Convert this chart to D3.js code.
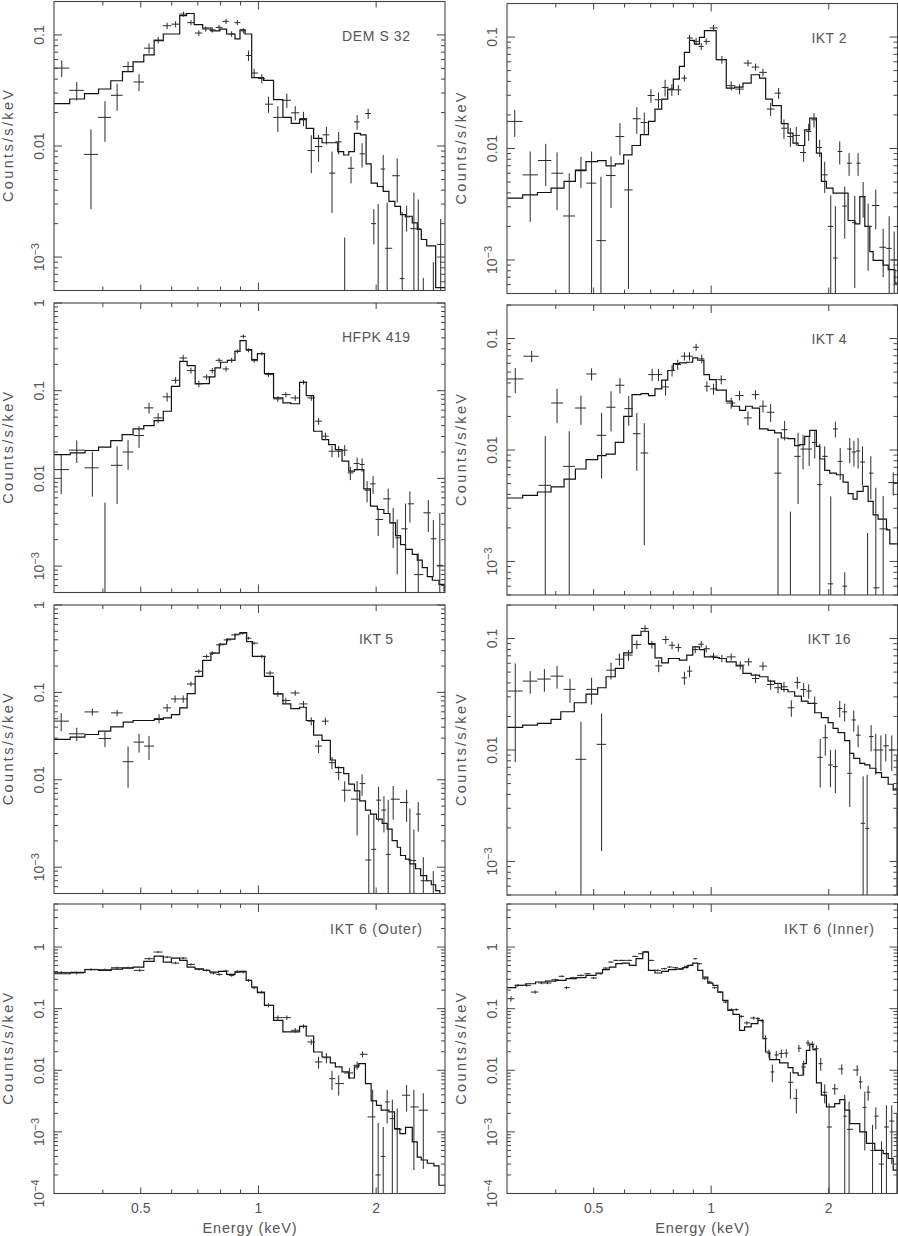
<!DOCTYPE html>
<html><head><meta charset="utf-8">
<script src="https://cdnjs.cloudflare.com/ajax/libs/d3/7.8.5/d3.min.js"></script>
<style>
html,body{margin:0;padding:0;background:#fff;}
svg{display:block;}
text{font-family:"Liberation Sans",Arial,Helvetica,sans-serif;fill:#555;}
</style>
</head><body>
<svg id="c" width="898" height="1236"></svg>
<script>
// ---------------- DATA (keV, counts/s/keV) ----------------
// DEM S 32
const dems32_modelE = [0.30,0.329,0.359,0.390,0.419,0.449,0.478,0.509,0.541,0.571,0.629,0.655,0.685,0.720,0.756,0.797,0.829,0.871,0.897,0.924,0.961,1.030,1.093,1.155,1.213,1.274,1.325,1.384,1.454,1.595,1.652,1.702,1.760,1.823,1.885,1.942,2.014,2.085,2.156,2.233,2.309,2.378,2.474,2.548,2.609,2.693,2.840];
const dems32_modelV = [0.0241,0.0265,0.0296,0.0326,0.0387,0.0467,0.0573,0.0662,0.089,0.102,0.149,0.156,0.124,0.1155,0.109,0.113,0.102,0.092,0.111,0.102,0.0412,0.039,0.0262,0.0181,0.0160,0.0173,0.0144,0.0117,0.0107,0.0089,0.0083,0.0089,0.0130,0.0126,0.0069,0.00463,0.00432,0.0039,0.00317,0.00286,0.00241,0.00233,0.00203,0.00177,0.00144,0.00126,0.00053];
const dems32_E = [0.314,0.343,0.373,0.405,0.435,0.464,0.495,0.525,0.554,0.584,0.614,0.643,0.672,0.704,0.733,0.762,0.793,0.826,0.854,0.883,0.915,0.943,0.975,1.020,1.061,1.121,1.182,1.242,1.304,1.365,1.425,1.492,1.542,1.604,1.662,1.725,1.788,1.841,1.908,1.973,2.024,2.085,2.134,2.264,2.332,2.393,2.498,2.563,2.640,2.801,2.925];
const dems32_V = [0.0503,0.0317,0.0084,0.0181,0.0286,0.052,0.0377,0.076,0.090,0.121,0.125,0.154,0.129,0.104,0.113,0.111,0.117,0.1325,0.102,0.129,0.109,0.0653,0.0454,0.0404,0.0238,0.0181,0.0258,0.0199,0.0177,0.0091,0.0099,0.0126,0.0057,0.0109,0.0002,0.0063,0.0165,0.0085,0.0196,0.0020,0.0003,0.0062,0.0012,0.0054,0.00064,0.0023,0.0018,0.0018,0.0002,0.0002,0.0013];
const dems32_err = [0.0086,0.006,0.0057,0.0072,0.0078,0.0057,0.0065,0.008,0.0064,0.008,0.008,0.008,0.007,0.006,0.006,0.006,0.006,0.007,0.006,0.007,0.006,0.007,0.0042,0.0038,0.0039,0.0047,0.0038,0.0029,0.0026,0.0034,0.0027,0.0023,0.0032,0.0025,0.0013,0.0017,0.0025,0.0021,0.0021,0.0007,0.0027,0.0021,0.0019,0.0023,0.0019,0.0006,0.002,0.0015,0.00045,0.0007,0.0009];

// IKT 2
const ikt2_modelE = [0.30,0.329,0.359,0.389,0.420,0.449,0.478,0.512,0.538,0.568,0.597,0.627,0.659,0.691,0.718,0.747,0.774,0.800,0.829,0.854,0.880,0.906,0.933,0.961,1.030,1.093,1.148,1.206,1.266,1.330,1.379,1.434,1.512,1.573,1.620,1.669,1.736,1.788,1.860,1.915,1.973,2.052,2.242,2.332,2.402,2.474,2.548,2.599,2.757,2.840,2.954];
const ikt2_modelV = [0.00358,0.00384,0.00403,0.00441,0.00506,0.00634,0.00764,0.0078,0.00698,0.00728,0.00877,0.01064,0.0133,0.0175,0.0226,0.0277,0.0341,0.042,0.0545,0.0728,0.0933,0.0865,0.0993,0.114,0.0626,0.0348,0.0356,0.0386,0.0459,0.0428,0.0277,0.0242,0.0167,0.01374,0.01117,0.01064,0.01472,0.0187,0.00908,0.00506,0.00441,0.00397,0.00226,0.00211,0.0037,0.002,0.00119,0.00099,0.0009,0.00082,0.00062];
const ikt2_E = [0.314,0.344,0.377,0.403,0.433,0.464,0.494,0.522,0.554,0.584,0.614,0.645,0.674,0.701,0.733,0.762,0.793,0.824,0.854,0.880,0.915,0.943,0.971,1.014,1.065,1.125,1.182,1.242,1.299,1.357,1.420,1.488,1.536,1.595,1.652,1.725,1.777,1.834,1.896,1.953,2.024,2.080,2.134,2.198,2.255,2.332,2.378,2.450,2.523,2.639,2.757,2.856,2.942];
const ikt2_V = [0.0175,0.0058,0.0078,0.0060,0.00248,0.00643,0.00489,0.00149,0.00572,0.0128,0.00425,0.0185,0.0171,0.0299,0.0274,0.0353,0.0336,0.0336,0.0428,0.098,0.0914,0.0824,0.0914,0.1205,0.0626,0.0366,0.0341,0.0584,0.0538,0.0482,0.0226,0.0314,0.0152,0.0128,0.0131,0.0092,0.0142,0.0181,0.0102,0.0058,0.002,0.00104,0.0094,0.00305,0.00738,0.00216,0.00738,0.0037,0.002,0.00308,0.0013,0.00127,0.001];
const ikt2_err = [0.0048,0.0036,0.0032,0.0032,0.0035,0.002,0.0045,0.0041,0.0028,0.0041,0.0037,0.005,0.0039,0.0042,0.0044,0.006,0.004,0.0035,0.003,0.007,0.007,0.006,0.006,0.008,0.005,0.0035,0.0035,0.004,0.004,0.0038,0.003,0.0035,0.003,0.0025,0.0025,0.0016,0.0025,0.0027,0.0018,0.0018,0.0018,0.002,0.0022,0.0015,0.0017,0.0016,0.0017,0.0013,0.0012,0.0012,0.0006,0.0012,0.0008];

// HFPK 419
const hfpk419_modelE = [0.30,0.330,0.360,0.390,0.419,0.448,0.478,0.509,0.541,0.571,0.599,0.629,0.657,0.689,0.749,0.774,0.800,0.833,0.871,0.897,0.930,0.961,0.994,1.036,1.093,1.155,1.21,1.274,1.325,1.384,1.454,1.512,1.573,1.636,1.702,1.760,1.860,1.934,2.014,2.093,2.168,2.242,2.309,2.378,2.474,2.548,2.624,2.703,2.784,2.896,2.984];
const hfpk419_modelV = [0.0187,0.0195,0.0208,0.0227,0.027,0.0316,0.0367,0.040,0.0456,0.0583,0.1123,0.2164,0.193,0.1205,0.1435,0.1817,0.211,0.222,0.281,0.372,0.294,0.226,0.265,0.1566,0.0827,0.0726,0.071,0.1247,0.088,0.0345,0.0277,0.0243,0.0213,0.0157,0.0121,0.0126,0.0076,0.00482,0.00442,0.00398,0.00311,0.00223,0.00176,0.00155,0.00136,0.00117,0.00096,0.00076,0.00069,0.00062,0.00052];
const hfpk419_E = [0.313,0.343,0.376,0.405,0.435,0.464,0.495,0.525,0.554,0.584,0.614,0.642,0.672,0.704,0.737,0.762,0.793,0.826,0.854,0.883,0.915,0.943,0.975,1.020,1.061,1.121,1.175,1.242,1.304,1.365,1.425,1.483,1.542,1.604,1.662,1.718,1.788,1.841,1.896,1.964,2.024,2.147,2.211,2.264,2.378,2.44,2.563,2.719,2.801,2.91];
const hfpk419_V = [0.0126,0.0210,0.0132,0.0003,0.0141,0.020,0.0308,0.0637,0.049,0.085,0.1315,0.236,0.1695,0.1195,0.1435,0.1695,0.222,0.177,0.222,0.281,0.417,0.289,0.220,0.265,0.1526,0.0806,0.0903,0.0827,0.1247,0.0827,0.0449,0.0303,0.0204,0.0204,0.021,0.01156,0.0148,0.0144,0.00734,0.00867,0.0034,0.00585,0.00311,0.0021,0.00266,0.00513,0.0008,0.00405,0.00205,0.00102];
const hfpk419_err = [0.006,0.006,0.007,0.005,0.009,0.0075,0.0085,0.009,0.0065,0.01,0.011,0.02,0.013,0.01,0.01,0.012,0.014,0.012,0.014,0.015,0.02,0.015,0.012,0.013,0.009,0.006,0.006,0.006,0.007,0.006,0.004,0.003,0.003,0.003,0.003,0.002,0.0025,0.0025,0.002,0.002,0.0012,0.0018,0.0015,0.0013,0.0025,0.002,0.0006,0.0016,0.0013,0.003];

// IKT 4
const ikt4_modelE = [0.30,0.329,0.359,0.389,0.420,0.449,0.478,0.512,0.538,0.568,0.597,0.627,0.661,0.691,0.718,0.747,0.774,0.800,0.829,0.863,0.897,0.924,0.958,0.990,1.030,1.093,1.132,1.182,1.225,1.274,1.330,1.398,1.454,1.512,1.573,1.636,1.686,1.736,1.788,1.860,1.897,1.953,2.012,2.093,2.177,2.242,2.309,2.364,2.450,2.523,2.599,2.676,2.811,2.867];
const ikt4_modelV = [0.00371,0.00392,0.0042,0.00466,0.00549,0.00675,0.00819,0.0089,0.0092,0.01172,0.02006,0.0314,0.0321,0.0308,0.0353,0.0423,0.0517,0.0596,0.0605,0.0613,0.067,0.0639,0.0475,0.0428,0.0344,0.0274,0.0247,0.0227,0.0247,0.0238,0.01545,0.01503,0.01422,0.01282,0.01265,0.01094,0.01117,0.01327,0.01503,0.0108,0.0083,0.00657,0.00621,0.0060,0.00516,0.00406,0.00363,0.00425,0.00472,0.00346,0.00262,0.0024,0.00192,0.00144];
const ikt4_E = [0.315,0.347,0.376,0.403,0.433,0.464,0.494,0.524,0.554,0.584,0.615,0.645,0.674,0.706,0.733,0.764,0.794,0.821,0.854,0.880,0.915,0.946,0.975,1.014,1.061,1.125,1.182,1.242,1.299,1.357,1.420,1.483,1.542,1.595,1.669,1.719,1.782,1.842,1.897,1.953,2.024,2.080,2.14,2.198,2.264,2.32,2.378,2.44,2.515,2.563,2.64,2.757,2.925];
const ikt4_V = [0.0434,0.0694,0.00482,0.0264,0.00713,0.0238,0.0481,0.01355,0.0242,0.0381,0.0235,0.0140,0.0094,0.0475,0.0475,0.0368,0.0517,0.0585,0.0694,0.0694,0.0836,0.0657,0.0373,0.0353,0.0428,0.0264,0.0308,0.0194,0.0314,0.0247,0.0218,0.0062,0.0152,0.0003,0.00877,0.0102,0.0102,0.0117,0.00489,0.00877,0.00063,0.01545,0.0079,0.0006,0.0102,0.0096,0.0098,0.0078,0.0003,0.0062,0.00058,0.00196,0.0051];
const ikt4_err = [0.011,0.008,0.0085,0.009,0.0076,0.007,0.006,0.008,0.0095,0.006,0.007,0.0075,0.008,0.006,0.006,0.006,0.006,0.006,0.006,0.006,0.006,0.006,0.004,0.004,0.004,0.003,0.003,0.0028,0.003,0.003,0.004,0.0066,0.003,0.0025,0.0055,0.0035,0.003,0.0033,0.0065,0.002,0.0032,0.0025,0.0025,0.0002,0.0026,0.0025,0.003,0.003,0.0015,0.0026,0.004,0.0019,0.0012];

// IKT 5
const ikt5_modelE = [0.30,0.330,0.360,0.390,0.419,0.451,0.478,0.509,0.541,0.571,0.599,0.629,0.657,0.689,0.720,0.756,0.794,0.829,0.871,0.897,0.933,0.965,1.036,1.093,1.155,1.210,1.274,1.325,1.384,1.454,1.527,1.573,1.652,1.702,1.760,1.816,1.878,1.935,2.004,2.072,2.134,2.197,2.264,2.309,2.378,2.44,2.523,2.599,2.693,2.767,2.840,2.91];
const ikt5_modelV = [0.029,0.0308,0.033,0.036,0.0404,0.0456,0.0477,0.0477,0.049,0.0512,0.0558,0.0665,0.0968,0.1526,0.232,0.281,0.356,0.406,0.463,0.484,0.382,0.258,0.1526,0.096,0.0738,0.0653,0.0676,0.0477,0.0324,0.0282,0.01684,0.01377,0.01177,0.0089,0.00746,0.00574,0.0045,0.00405,0.00355,0.00317,0.00273,0.00201,0.00169,0.00136,0.00124,0.00109,0.00096,0.0008,0.0007,0.00063,0.00054,0.0005];
const ikt5_E = [0.313,0.343,0.376,0.405,0.435,0.464,0.495,0.525,0.557,0.584,0.612,0.642,0.672,0.704,0.737,0.762,0.797,0.834,0.871,0.911,0.943,0.975,1.020,1.071,1.121,1.175,1.242,1.304,1.365,1.425,1.483,1.542,1.604,1.662,1.788,1.841,1.915,1.973,2.029,2.094,2.147,2.211,2.393,2.44,2.498,2.563,2.64,2.80];
const ikt5_V = [0.0469,0.0336,0.0598,0.0297,0.0583,0.0161,0.027,0.0243,0.0502,0.0665,0.0842,0.0842,0.1247,0.174,0.258,0.281,0.35,0.399,0.455,0.475,0.417,0.366,0.258,0.1665,0.096,0.0806,0.0985,0.0738,0.0469,0.0243,0.0469,0.0157,0.0121,0.0076,0.006,0.00905,0.00121,0.0016,0.00585,0.0045,0.0014,0.006,0.0055,0.0012,0.00119,0.00405,0.0007,0.0005];
const ikt5_err = [0.011,0.0058,0.0055,0.006,0.005,0.008,0.0065,0.0075,0.006,0.007,0.008,0.008,0.008,0.01,0.013,0.013,0.015,0.015,0.016,0.017,0.015,0.014,0.012,0.01,0.007,0.006,0.007,0.006,0.005,0.004,0.0045,0.0025,0.0022,0.002,0.0037,0.0025,0.0028,0.0025,0.0025,0.002,0.0045,0.0025,0.0022,0.0035,0.0015,0.0015,0.0006,0.0004];

// IKT 16
const ikt16_modelE = [0.30,0.329,0.359,0.389,0.412,0.446,0.478,0.512,0.538,0.568,0.597,0.627,0.661,0.691,0.718,0.747,0.777,0.829,0.866,0.897,0.933,0.961,1.010,1.050,1.093,1.159,1.206,1.266,1.330,1.398,1.454,1.512,1.573,1.636,1.702,1.770,1.841,1.915,1.993,2.052,2.113,2.197,2.264,2.318,2.402,2.474,2.548,2.639,2.730,2.840,2.925];
const ikt16_modelV = [0.01596,0.01675,0.01733,0.01883,0.02204,0.02655,0.0317,0.0362,0.0454,0.0539,0.0744,0.107,0.1163,0.0902,0.0671,0.0605,0.0662,0.064,0.071,0.0842,0.0797,0.0685,0.0676,0.0662,0.0618,0.0569,0.0486,0.047,0.0454,0.0415,0.0395,0.0349,0.0333,0.0305,0.0275,0.0262,0.0216,0.0195,0.0176,0.01563,0.01429,0.01212,0.00933,0.00842,0.0076,0.00734,0.00686,0.00627,0.00569,0.00493,0.00439];
const ikt16_E = [0.315,0.344,0.374,0.403,0.435,0.464,0.494,0.524,0.554,0.582,0.614,0.645,0.677,0.705,0.734,0.765,0.794,0.824,0.854,0.880,0.910,0.943,0.971,1.014,1.065,1.125,1.187,1.247,1.299,1.357,1.420,1.483,1.536,1.604,1.662,1.725,1.777,1.841,1.902,1.960,2.02,2.08,2.134,2.197,2.264,2.318,2.378,2.45,2.508,2.568,2.639,2.72,2.8,2.90,2.99];
const ikt16_V = [0.0338,0.0415,0.0433,0.046,0.035,0.00825,0.035,0.01124,0.052,0.0653,0.0711,0.0884,0.123,0.0884,0.0569,0.098,0.0871,0.083,0.0444,0.051,0.0797,0.089,0.081,0.0694,0.0662,0.0685,0.0577,0.0618,0.0438,0.0566,0.0387,0.0362,0.0369,0.0239,0.0404,0.0349,0.0338,0.0262,0.0086,0.0129,0.00734,0.0071,0.0236,0.022,0.00618,0.0186,0.0136,0.0022,0.00198,0.0132,0.01,0.01,0.0109,0.01,0.0045];
const ikt16_err = [0.026,0.0095,0.01,0.0105,0.0085,0.0097,0.0095,0.01,0.009,0.008,0.008,0.008,0.009,0.007,0.007,0.008,0.007,0.007,0.006,0.006,0.006,0.006,0.006,0.005,0.005,0.005,0.005,0.005,0.004,0.005,0.004,0.004,0.004,0.004,0.005,0.005,0.005,0.004,0.004,0.004,0.0027,0.003,0.004,0.004,0.0031,0.004,0.003,0.0036,0.004,0.0035,0.004,0.0035,0.003,0.0035,0.0045];

// IKT 6 (Outer)
const ikt6o_modelE = [0.30,0.330,0.360,0.390,0.420,0.449,0.478,0.509,0.541,0.571,0.599,0.629,0.657,0.688,0.723,0.751,0.790,0.829,0.871,0.897,0.930,0.961,0.994,1.036,1.093,1.155,1.210,1.274,1.325,1.384,1.454,1.527,1.573,1.636,1.702,1.760,1.805,1.878,1.942,2.004,2.06,2.156,2.229,2.300,2.378,2.474,2.548,2.609,2.703,2.81,2.895];
const ikt6o_modelV = [0.369,0.388,0.429,0.419,0.44,0.456,0.474,0.586,0.715,0.571,0.663,0.608,0.474,0.445,0.419,0.393,0.403,0.36,0.393,0.403,0.288,0.2246,0.1818,0.1133,0.0647,0.0419,0.0419,0.0517,0.036,0.0198,0.01644,0.01315,0.01133,0.0094,0.0075,0.01133,0.01283,0.00608,0.00318,0.0027,0.00225,0.00211,0.00113,0.00094,0.00118,0.00069,0.00039,0.00035,0.00031,0.00028,0.000136];
const ikt6o_E = [0.313,0.343,0.373,0.405,0.435,0.464,0.497,0.525,0.554,0.584,0.614,0.642,0.672,0.704,0.737,0.767,0.793,0.826,0.854,0.883,0.915,0.943,0.975,1.020,1.061,1.121,1.182,1.242,1.304,1.365,1.425,1.492,1.542,1.604,1.709,1.788,1.845,1.96,2.024,2.085,2.134,2.2,2.264,2.393,2.498,2.64];
const ikt6o_V = [0.388,0.379,0.434,0.429,0.462,0.462,0.419,0.647,0.83,0.688,0.55,0.663,0.523,0.434,0.419,0.379,0.36,0.408,0.347,0.403,0.393,0.288,0.219,0.186,0.1133,0.0715,0.0715,0.0446,0.0517,0.0288,0.01365,0.016,0.0073,0.00608,0.00905,0.01206,0.01817,0.00175,0.0002,0.0004,0.00307,0.00164,0.0011,0.00394,0.00254,0.00225];
const ikt6o_err = [0.02,0.02,0.02,0.02,0.02,0.02,0.02,0.03,0.03,0.03,0.025,0.03,0.025,0.02,0.02,0.02,0.018,0.02,0.018,0.02,0.02,0.015,0.012,0.01,0.008,0.006,0.006,0.004,0.004,0.003,0.003,0.003,0.0025,0.0022,0.0018,0.0018,0.002,0.0031,0.0012,0.0008,0.0017,0.0017,0.0013,0.0018,0.0023,0.002];

// IKT 6 (Inner)
const ikt6i_modelE = [0.30,0.316,0.335,0.355,0.377,0.40,0.425,0.451,0.478,0.507,0.527,0.548,0.570,0.593,0.617,0.642,0.668,0.691,0.718,0.747,0.777,0.813,0.846,0.871,0.897,0.924,0.952,0.980,1.010,1.040,1.071,1.103,1.137,1.182,1.218,1.266,1.317,1.357,1.378,1.412,1.497,1.573,1.620,1.669,1.719,1.753,1.788,1.823,1.860,1.915,1.973,2.072,2.134,2.198,2.264,2.402,2.498,2.624,2.757,2.840,2.925];
const ikt6i_modelV = [0.219,0.239,0.254,0.271,0.281,0.288,0.3065,0.318,0.347,0.379,0.429,0.474,0.537,0.55,0.505,0.647,0.83,0.419,0.379,0.403,0.429,0.44,0.462,0.505,0.55,0.419,0.326,0.2607,0.239,0.186,0.1365,0.094,0.081,0.0446,0.0505,0.0571,0.0647,0.0327,0.0198,0.0149,0.01315,0.01105,0.00905,0.0083,0.01283,0.0211,0.0264,0.0216,0.00623,0.00394,0.00254,0.00288,0.00334,0.00225,0.00136,0.001,0.00065,0.0005,0.000445,0.00037,0.00024];
const ikt6i_E = [0.307,0.320,0.337,0.354,0.368,0.381,0.399,0.415,0.426,0.443,0.464,0.483,0.500,0.520,0.536,0.554,0.570,0.590,0.617,0.638,0.661,0.681,0.701,0.729,0.759,0.782,0.810,0.838,0.866,0.889,0.910,0.933,0.961,0.990,1.020,1.055,1.088,1.126,1.159,1.194,1.234,1.284,1.317,1.352,1.378,1.406,1.434,1.468,1.512,1.557,1.595,1.652,1.678,1.726,1.770,1.815,1.860,1.908,1.953,2.004,2.072,2.160,2.198,2.255,2.365,2.410,2.474,2.523,2.590,2.640,2.730,2.810,2.900,2.990];
const ikt6i_V = [0.145,0.239,0.239,0.186,0.261,0.261,0.295,0.335,0.219,0.318,0.347,0.369,0.315,0.369,0.456,0.571,0.608,0.608,0.608,0.705,0.78,0.85,0.608,0.419,0.445,0.474,0.462,0.445,0.486,0.505,0.647,0.537,0.3065,0.271,0.219,0.186,0.1282,0.0964,0.0964,0.075,0.0587,0.0706,0.069,0.0634,0.0327,0.0187,0.0094,0.0177,0.0187,0.019,0.0064,0.0035,0.0228,0.0113,0.0277,0.0264,0.0224,0.0128,0.0044,0.0012,0.005,0.0105,0.0018,0.0011,0.0101,0.0065,0.0025,0.0044,0.0005,0.0018,0.0003,0.0012,0.0015,0.0008];
const ikt6i_err = [0.015,0.012,0.012,0.012,0.012,0.012,0.012,0.012,0.012,0.012,0.012,0.012,0.012,0.012,0.015,0.015,0.015,0.015,0.015,0.015,0.015,0.015,0.015,0.015,0.015,0.015,0.015,0.015,0.015,0.015,0.015,0.015,0.01,0.01,0.008,0.008,0.006,0.005,0.005,0.004,0.004,0.004,0.004,0.004,0.004,0.003,0.003,0.003,0.003,0.003,0.003,0.0015,0.003,0.003,0.003,0.003,0.003,0.003,0.0015,0.0017,0.001,0.002,0.0022,0.002,0.002,0.0015,0.002,0.0012,0.0008,0.0007,0.0004,0.0015,0.0012,0.0012];

// Axis content
const panelNames = ["DEM S 32","IKT 2","HFPK 419","IKT 4","IKT 5","IKT 16","IKT 6 (Outer)","IKT 6 (Inner)"];
const yDomains = [[5e-4,0.2],[5e-4,0.2],[5e-4,1],[5e-4,0.2],[5e-4,1],[5e-4,0.2],[1e-4,5],[1e-4,5]];
const energyDomain = [0.3, 3.0];
const xTickValues = [0.4,0.5,0.6,0.7,0.8,0.9,1,2];
const xTickLabels = [0.5,1,2];
const xTitle = "Energy (keV)";
const yTitle = "Counts/s/keV";

// ---------------- LAYOUT ----------------
const colX = [[54,445],[507,897.5]];
const rowY = [[[1.5,290.5],[3.5,293.5]],[[303,592.5],[305,595]],[[605,893.5],[605,895]],[[904,1193.5],[904,1193.5]]];
const labelWidths = [68,35,68,35,34,43,92,90];

const series = [
  [dems32_modelE,dems32_modelV,dems32_E,dems32_V,dems32_err],
  [ikt2_modelE,ikt2_modelV,ikt2_E,ikt2_V,ikt2_err],
  [hfpk419_modelE,hfpk419_modelV,hfpk419_E,hfpk419_V,hfpk419_err],
  [ikt4_modelE,ikt4_modelV,ikt4_E,ikt4_V,ikt4_err],
  [ikt5_modelE,ikt5_modelV,ikt5_E,ikt5_V,ikt5_err],
  [ikt16_modelE,ikt16_modelV,ikt16_E,ikt16_V,ikt16_err],
  [ikt6o_modelE,ikt6o_modelV,ikt6o_E,ikt6o_V,ikt6o_err],
  [ikt6i_modelE,ikt6i_modelV,ikt6i_E,ikt6i_V,ikt6i_err]
];

const svg = d3.select("#c");
const defs = svg.append("defs");
const INK = "#2a2a2a";

series.forEach((s,i)=>{
  const [mE,mV,E,V,ER] = s;
  const col=i%2, row=Math.floor(i/2);
  const [x0,x1]=colX[col];
  const [top,bottom]=rowY[row][col];
  const yDom=yDomains[i];
  const x=d3.scaleLog().domain(energyDomain).range([x0,x1]);
  const y=d3.scaleLog().domain(yDom).range([bottom,top]);
  const g=svg.append("g");
  defs.append("clipPath").attr("id","clip"+i).append("rect")
    .attr("x",x0).attr("y",top).attr("width",x1-x0).attr("height",bottom-top);
  const plot=g.append("g").attr("clip-path",`url(#clip${i})`);

  // model step curve
  const n=Math.min(mE.length,mV.length);
  const pts=[];
  for(let k=0;k<n;k++) pts.push([mE[k],mV[k]]);
  pts.push([energyDomain[1],mV[n-1]]);
  plot.append("path")
    .attr("d",d3.line().x(d=>x(d[0])).y(d=>y(d[1])).curve(d3.curveStepAfter)(pts))
    .attr("fill","none").attr("stroke","#111").attr("stroke-width",1.2);

  // data crosses
  const m=Math.min(E.length,V.length,ER.length);
  const dg=plot.append("g").attr("stroke",INK).attr("stroke-width",1).attr("fill","none");
  for(let k=0;k<m;k++){
    const e=E[k];
    const lo = k>0 ? Math.sqrt(E[k-1]*e) : e*e/Math.sqrt(e*E[k+1]);
    const hi = k<m-1 ? Math.sqrt(e*E[k+1]) : e*e/Math.sqrt(E[k-1]*e);
    const v=V[k], sg=ER[k];
    const yTop=y(v+sg);
    const yBot=(v-sg)>yDom[0]*0.5 ? y(v-sg) : bottom+3;
    const xc=x(e);
    dg.append("line").attr("x1",xc).attr("x2",xc).attr("y1",yTop).attr("y2",yBot);
    dg.append("line").attr("x1",x(lo)).attr("x2",x(hi)).attr("y1",y(v)).attr("y2",y(v));
  }

  // frame
  g.append("rect").attr("x",x0).attr("y",top).attr("width",x1-x0).attr("height",bottom-top)
    .attr("fill","none").attr("stroke","#444").attr("stroke-width",1.1);

  // x ticks (top and bottom, inward)
  const tg=g.append("g").attr("stroke","#444").attr("stroke-width",1);
  xTickValues.forEach(t=>{
    const len = t===1 ? 8 : (xTickLabels.includes(t) ? 6 : 4);
    const xx=x(t);
    tg.append("line").attr("x1",xx).attr("x2",xx).attr("y1",bottom).attr("y2",bottom-len);
    tg.append("line").attr("x1",xx).attr("x2",xx).attr("y1",top).attr("y2",top+len);
  });
  // y ticks (left and right, inward)
  const kMin=Math.floor(Math.log10(yDom[0])), kMax=Math.ceil(Math.log10(yDom[1]));
  const majors=[];
  for(let k=kMin;k<=kMax;k++){
    for(let mm=1;mm<=9;mm++){
      const v=mm*Math.pow(10,k);
      if(v<yDom[0]*0.999||v>yDom[1]*1.001) continue;
      const len= mm===1 ? 8 : 4;
      const yy=y(v);
      tg.append("line").attr("x1",x0).attr("x2",x0+len).attr("y1",yy).attr("y2",yy);
      tg.append("line").attr("x1",x1).attr("x2",x1-len).attr("y1",yy).attr("y2",yy);
      if(mm===1) majors.push(k);
    }
  }
  // y tick labels (rotated)
  majors.forEach(k=>{
    const yy=y(Math.pow(10,k)); const cx=x0-15;
    const t=g.append("text").attr("x",cx).attr("y",yy).attr("dy","0.36em")
      .attr("text-anchor","middle").attr("font-size",14)
      .attr("transform",`rotate(-90,${cx},${yy})`);
    if(k>=-2){
      t.text(k===0?"1":(k===-1?"0.1":"0.01"));
    } else {
      t.append("tspan").text("10");
      t.append("tspan").attr("dy","-0.5em").attr("font-size",11).text("\u2212"+(-k));
    }
  });
  // y title
  const ty=(top+bottom)/2, tx=x0-46;
  g.append("text").attr("x",tx).attr("y",ty).attr("dy","0.36em").attr("text-anchor","middle")
    .attr("font-size",14.5).attr("textLength",112).attr("lengthAdjust","spacing")
    .attr("transform",`rotate(-90,${tx},${ty})`).text(yTitle);
  // panel label
  const ly = top + (row===3 ? 25 : 34);
  g.append("text").attr("x",x0+322).attr("y",ly).attr("dy","0.36em").attr("text-anchor","middle")
    .attr("font-size",14).attr("textLength",labelWidths[i]).attr("lengthAdjust","spacing")
    .text(panelNames[i]);
  // bottom row x labels
  if(row===3){
    xTickLabels.forEach(t=>{
      g.append("text").attr("x",x(t)).attr("y",bottom+14.5).attr("dy","0.36em")
        .attr("text-anchor","middle").attr("font-size",14).text(String(t));
    });
    g.append("text").attr("x",(x0+x1)/2).attr("y",bottom+34.5).attr("dy","0.36em")
      .attr("text-anchor","middle").attr("font-size",14.5).attr("textLength",94)
      .attr("lengthAdjust","spacing").text(xTitle);
  }
});
</script>
</body></html>
